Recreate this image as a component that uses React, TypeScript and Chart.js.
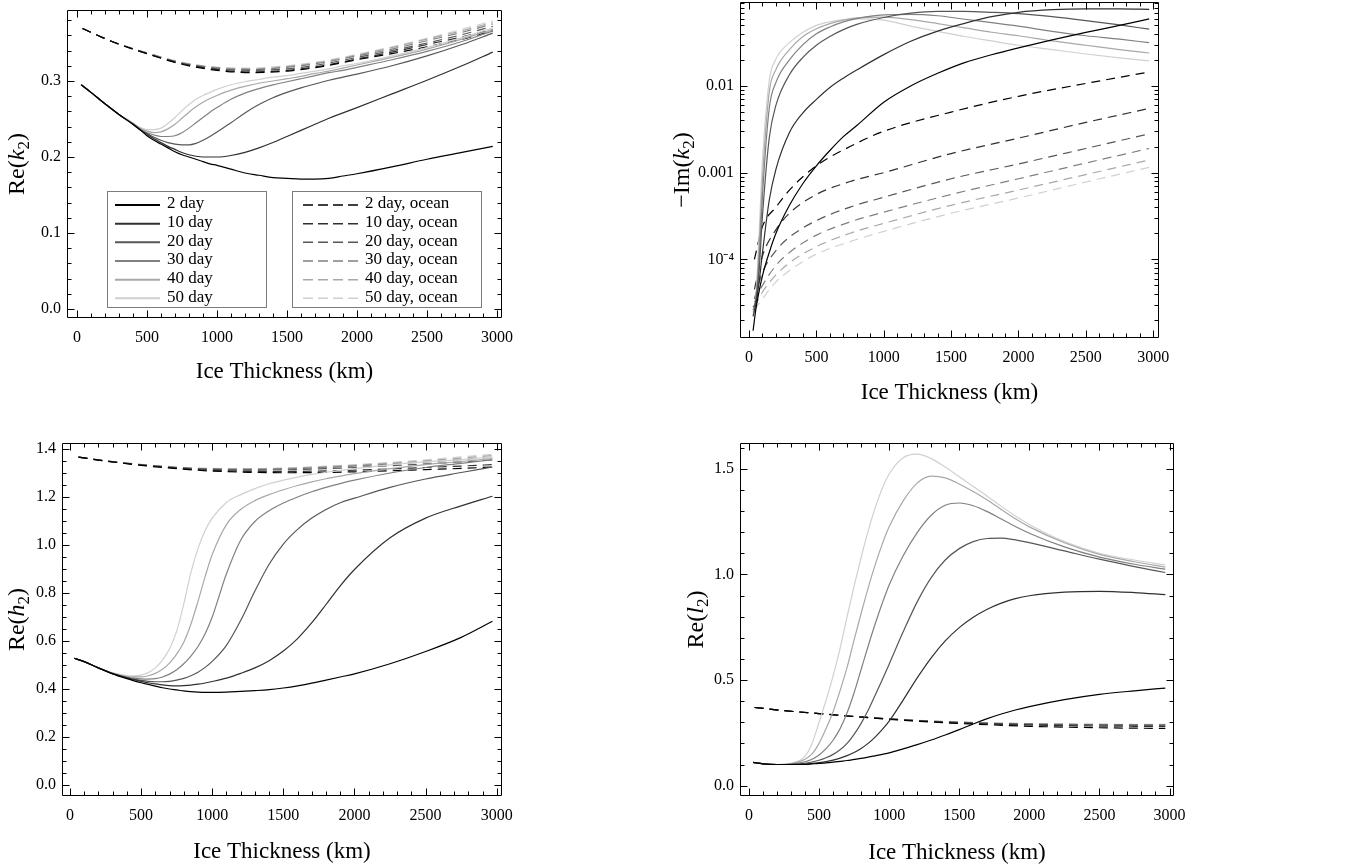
import React, { useEffect, useRef } from 'react';
import { Chart, registerables } from 'chart.js';

Chart.register(...registerables);

const SERIF = '"Liberation Serif", "Times New Roman", Times, serif';

// ---- categories / labels ----
const periodLabels = ['2 day', '10 day', '20 day', '30 day', '40 day', '50 day'];
const oceanLabels = ['2 day, ocean', '10 day, ocean', '20 day, ocean', '30 day, ocean', '40 day, ocean', '50 day, ocean'];
const grayShades = ['#000000', '#303030', '#575757', '#808080', '#a8a8a8', '#d0d0d0'];

// ---- tick labels ----
const xTickValues = [0, 500, 1000, 1500, 2000, 2500, 3000];
const reK2TickValues = [0, 0.1, 0.2, 0.3];
const imK2TickValues = [0.0001, 0.001, 0.01];
const reH2TickValues = [0, 0.2, 0.4, 0.6, 0.8, 1.0, 1.2, 1.4];
const reL2TickValues = [0, 0.5, 1.0, 1.5];

// ---- ice thickness grids (km) ----
const thickSolid = [30, 100, 200, 300, 400, 450, 500, 550, 600, 650, 700, 750, 800, 850, 900, 950, 1000, 1100, 1200, 1300, 1400, 1500, 1600, 1700, 1800, 1900, 2000, 2250, 2500, 2750, 2970];
const thickOceanK2 = [40, 250, 500, 750, 1000, 1250, 1500, 1750, 2000, 2250, 2500, 2750, 2970];
const thickSolidIm = [30, 50, 75, 100, 150, 200, 300, 400, 500, 600, 700, 800, 1000, 1200, 1400, 1600, 1800, 2000, 2250, 2500, 2750, 2970];
const thickOceanIm = [40, 100, 200, 300, 500, 750, 1000, 1500, 2000, 2500, 2970];
const thickOceanH2 = [60, 250, 500, 750, 1000, 1250, 1500, 1750, 2000, 2250, 2500, 2750, 2970];
const thickOceanL2 = [40, 250, 500, 750, 1000, 1250, 1500, 1750, 2000, 2250, 2500, 2750, 2970];

// ---- Re(k2) ----
const reK2_2d = [0.295, 0.285, 0.270, 0.256, 0.243, 0.236, 0.228, 0.222, 0.217, 0.212, 0.207, 0.203, 0.200, 0.197, 0.194, 0.191, 0.189, 0.184, 0.179, 0.176, 0.173, 0.172, 0.171, 0.171, 0.172, 0.175, 0.178, 0.187, 0.197, 0.206, 0.214];
const reK2_10d = [0.295, 0.285, 0.270, 0.256, 0.243, 0.236, 0.230, 0.224, 0.219, 0.214, 0.210, 0.206, 0.203, 0.201, 0.200, 0.200, 0.200, 0.202, 0.206, 0.212, 0.219, 0.227, 0.235, 0.243, 0.251, 0.258, 0.265, 0.283, 0.301, 0.320, 0.338];
const reK2_20d = [0.295, 0.285, 0.270, 0.256, 0.243, 0.236, 0.231, 0.226, 0.222, 0.219, 0.217, 0.216, 0.216, 0.218, 0.222, 0.227, 0.233, 0.245, 0.258, 0.269, 0.278, 0.285, 0.291, 0.296, 0.301, 0.305, 0.309, 0.320, 0.333, 0.348, 0.363];
const reK2_30d = [0.295, 0.285, 0.270, 0.256, 0.244, 0.237, 0.232, 0.229, 0.227, 0.227, 0.228, 0.232, 0.238, 0.245, 0.252, 0.259, 0.265, 0.276, 0.284, 0.290, 0.295, 0.299, 0.303, 0.307, 0.311, 0.314, 0.318, 0.328, 0.339, 0.352, 0.366];
const reK2_40d = [0.295, 0.285, 0.270, 0.256, 0.244, 0.238, 0.234, 0.232, 0.233, 0.237, 0.243, 0.251, 0.259, 0.266, 0.272, 0.277, 0.281, 0.288, 0.293, 0.297, 0.300, 0.303, 0.306, 0.310, 0.313, 0.317, 0.321, 0.331, 0.342, 0.355, 0.368];
const reK2_50d = [0.295, 0.285, 0.270, 0.256, 0.245, 0.239, 0.236, 0.236, 0.238, 0.244, 0.252, 0.261, 0.269, 0.276, 0.281, 0.285, 0.289, 0.295, 0.299, 0.302, 0.305, 0.307, 0.310, 0.313, 0.316, 0.320, 0.323, 0.333, 0.344, 0.357, 0.370];
const reK2Ocean_2d = [0.369, 0.352, 0.336, 0.322, 0.314, 0.311, 0.313, 0.319, 0.328, 0.336, 0.345, 0.355, 0.366];
const reK2Ocean_10d = [0.369, 0.352, 0.336, 0.323, 0.315, 0.312, 0.314, 0.320, 0.329, 0.338, 0.348, 0.358, 0.368];
const reK2Ocean_20d = [0.369, 0.352, 0.336, 0.323, 0.316, 0.314, 0.316, 0.322, 0.331, 0.340, 0.350, 0.361, 0.372];
const reK2Ocean_30d = [0.369, 0.352, 0.337, 0.324, 0.317, 0.315, 0.318, 0.324, 0.333, 0.342, 0.353, 0.364, 0.375];
const reK2Ocean_40d = [0.369, 0.352, 0.337, 0.324, 0.318, 0.316, 0.319, 0.325, 0.334, 0.344, 0.355, 0.366, 0.377];
const reK2Ocean_50d = [0.369, 0.352, 0.337, 0.325, 0.318, 0.317, 0.320, 0.326, 0.335, 0.345, 0.356, 0.368, 0.379];

// ---- -Im(k2) ----
const imK2_2d = [1.5e-5, 2.6e-5, 4.3e-5, 6.5e-5, 1.2e-4, 2.0e-4, 4.2e-4, 7.5e-4, 1.2e-3, 1.8e-3, 2.6e-3, 3.5e-3, 6.5e-3, 0.0100, 0.0140, 0.0186, 0.0229, 0.0275, 0.0340, 0.0415, 0.0500, 0.0595];
const imK2_10d = [2.2e-5, 3.0e-5, 5.5e-5, 1.2e-4, 4.8e-4, 1.1e-3, 2.9e-3, 4.9e-3, 7.0e-3, 9.6e-3, 0.0123, 0.0153, 0.0230, 0.0328, 0.0430, 0.0528, 0.0630, 0.0708, 0.0759, 0.0776, 0.0776, 0.0767];
const imK2_20d = [2.8e-5, 3.3e-5, 7.5e-5, 3.2e-4, 2.5e-3, 6.0e-3, 0.0135, 0.0214, 0.0295, 0.0372, 0.0447, 0.0513, 0.0617, 0.0692, 0.0724, 0.0724, 0.0708, 0.0684, 0.0631, 0.0569, 0.0507, 0.0452];
const imK2_30d = [2.6e-5, 3.3e-5, 1.0e-4, 5.5e-4, 5.5e-3, 0.0110, 0.0200, 0.0300, 0.0400, 0.0480, 0.0550, 0.0600, 0.0660, 0.0670, 0.0646, 0.0589, 0.0537, 0.0490, 0.0427, 0.0380, 0.0347, 0.0316];
const imK2_40d = [2.5e-5, 3.4e-5, 1.4e-4, 8.5e-4, 8.5e-3, 0.0155, 0.0263, 0.0372, 0.0457, 0.0525, 0.0575, 0.0610, 0.0624, 0.0582, 0.0525, 0.0468, 0.0417, 0.0380, 0.0331, 0.0295, 0.0263, 0.0240];
const imK2_50d = [2.4e-5, 3.5e-5, 2.0e-4, 1.4e-3, 0.0115, 0.0205, 0.0316, 0.0417, 0.0501, 0.0550, 0.0582, 0.0596, 0.0575, 0.0490, 0.0427, 0.0372, 0.0331, 0.0295, 0.0263, 0.0234, 0.0211, 0.0195];
const imK2Ocean_2d = [1.0e-4, 2.4e-4, 4.0e-4, 6.3e-4, 1.2e-3, 2.0e-3, 3.0e-3, 5.0e-3, 7.6e-3, 0.0107, 0.0145];
const imK2Ocean_10d = [4.5e-5, 1.1e-4, 2.2e-4, 3.4e-4, 5.6e-4, 7.9e-4, 1.0e-3, 1.66e-3, 2.5e-3, 3.8e-3, 5.5e-3];
const imK2Ocean_20d = [3.5e-5, 7.1e-5, 1.26e-4, 1.8e-4, 2.8e-4, 4.0e-4, 5.2e-4, 8.5e-4, 1.26e-3, 1.9e-3, 2.8e-3];
const imK2Ocean_30d = [3.2e-5, 5.0e-5, 8.5e-5, 1.2e-4, 1.9e-4, 2.7e-4, 3.5e-4, 5.6e-4, 8.5e-4, 1.29e-3, 1.9e-3];
const imK2Ocean_40d = [2.8e-5, 4.2e-5, 6.6e-5, 9.1e-5, 1.4e-4, 2.0e-4, 2.6e-4, 4.2e-4, 6.3e-4, 9.5e-4, 1.4e-3];
const imK2Ocean_50d = [2.6e-5, 3.5e-5, 5.5e-5, 7.4e-5, 1.15e-4, 1.6e-4, 2.1e-4, 3.4e-4, 5.1e-4, 7.8e-4, 1.15e-3];

// ---- Re(h2) ----
const reH2_2d = [0.528, 0.514, 0.488, 0.463, 0.443, 0.434, 0.426, 0.419, 0.412, 0.405, 0.400, 0.396, 0.392, 0.389, 0.387, 0.386, 0.386, 0.387, 0.390, 0.393, 0.397, 0.404, 0.413, 0.424, 0.437, 0.450, 0.463, 0.505, 0.556, 0.615, 0.682];
const reH2_10d = [0.528, 0.514, 0.488, 0.464, 0.446, 0.439, 0.432, 0.426, 0.421, 0.417, 0.414, 0.413, 0.414, 0.416, 0.420, 0.425, 0.431, 0.445, 0.465, 0.488, 0.518, 0.558, 0.610, 0.676, 0.752, 0.830, 0.898, 1.030, 1.112, 1.163, 1.203];
const reH2_20d = [0.528, 0.514, 0.488, 0.464, 0.447, 0.441, 0.436, 0.432, 0.430, 0.430, 0.432, 0.437, 0.444, 0.455, 0.470, 0.490, 0.515, 0.582, 0.685, 0.808, 0.920, 1.004, 1.065, 1.112, 1.148, 1.176, 1.195, 1.240, 1.275, 1.302, 1.325];
const reH2_30d = [0.528, 0.514, 0.488, 0.465, 0.449, 0.445, 0.442, 0.441, 0.443, 0.450, 0.462, 0.480, 0.505, 0.537, 0.577, 0.630, 0.700, 0.880, 1.020, 1.098, 1.143, 1.175, 1.200, 1.222, 1.240, 1.256, 1.270, 1.300, 1.323, 1.340, 1.355];
const reH2_40d = [0.528, 0.514, 0.488, 0.466, 0.452, 0.450, 0.450, 0.455, 0.465, 0.482, 0.508, 0.545, 0.595, 0.670, 0.765, 0.868, 0.960, 1.085, 1.148, 1.185, 1.210, 1.230, 1.248, 1.263, 1.276, 1.287, 1.297, 1.318, 1.335, 1.348, 1.360];
const reH2_50d = [0.528, 0.514, 0.488, 0.467, 0.456, 0.455, 0.458, 0.468, 0.488, 0.520, 0.568, 0.640, 0.755, 0.885, 0.985, 1.060, 1.112, 1.177, 1.210, 1.235, 1.255, 1.270, 1.283, 1.294, 1.303, 1.311, 1.318, 1.334, 1.346, 1.356, 1.366];
const reH2Ocean_2d = [1.366, 1.350, 1.332, 1.318, 1.308, 1.303, 1.301, 1.302, 1.305, 1.309, 1.314, 1.319, 1.325];
const reH2Ocean_10d = [1.366, 1.350, 1.333, 1.320, 1.311, 1.307, 1.306, 1.308, 1.312, 1.317, 1.323, 1.329, 1.335];
const reH2Ocean_20d = [1.366, 1.350, 1.334, 1.322, 1.315, 1.312, 1.313, 1.317, 1.323, 1.330, 1.338, 1.346, 1.355];
const reH2Ocean_30d = [1.366, 1.351, 1.335, 1.323, 1.317, 1.315, 1.317, 1.322, 1.329, 1.337, 1.346, 1.356, 1.366];
const reH2Ocean_40d = [1.366, 1.351, 1.335, 1.324, 1.318, 1.317, 1.319, 1.325, 1.332, 1.341, 1.351, 1.362, 1.373];
const reH2Ocean_50d = [1.366, 1.351, 1.336, 1.325, 1.319, 1.318, 1.321, 1.327, 1.335, 1.344, 1.355, 1.367, 1.378];

// ---- Re(l2) ----
const reL2_2d = [0.110, 0.103, 0.100, 0.100, 0.101, 0.103, 0.105, 0.108, 0.111, 0.115, 0.119, 0.124, 0.129, 0.135, 0.141, 0.148, 0.155, 0.174, 0.194, 0.216, 0.240, 0.265, 0.292, 0.317, 0.339, 0.358, 0.374, 0.407, 0.432, 0.449, 0.462];
const reL2_10d = [0.110, 0.103, 0.100, 0.100, 0.102, 0.105, 0.109, 0.114, 0.121, 0.130, 0.142, 0.157, 0.176, 0.200, 0.230, 0.265, 0.305, 0.405, 0.510, 0.605, 0.685, 0.748, 0.797, 0.835, 0.864, 0.885, 0.899, 0.916, 0.920, 0.914, 0.904];
const reL2_20d = [0.110, 0.103, 0.100, 0.101, 0.106, 0.112, 0.120, 0.132, 0.148, 0.170, 0.200, 0.243, 0.295, 0.357, 0.428, 0.500, 0.575, 0.728, 0.870, 0.985, 1.068, 1.122, 1.155, 1.170, 1.172, 1.163, 1.150, 1.111, 1.072, 1.037, 1.009];
const reL2_30d = [0.110, 0.103, 0.100, 0.102, 0.113, 0.125, 0.145, 0.175, 0.215, 0.270, 0.345, 0.440, 0.550, 0.660, 0.765, 0.862, 0.950, 1.088, 1.198, 1.280, 1.327, 1.338, 1.325, 1.297, 1.262, 1.227, 1.195, 1.130, 1.082, 1.048, 1.025];
const reL2_40d = [0.110, 0.103, 0.100, 0.104, 0.125, 0.150, 0.200, 0.270, 0.350, 0.450, 0.560, 0.690, 0.815, 0.935, 1.045, 1.142, 1.225, 1.348, 1.432, 1.465, 1.457, 1.428, 1.392, 1.352, 1.307, 1.263, 1.225, 1.150, 1.095, 1.060, 1.034];
const reL2_50d = [0.110, 0.103, 0.100, 0.106, 0.140, 0.200, 0.300, 0.405, 0.520, 0.650, 0.800, 0.945, 1.080, 1.205, 1.315, 1.405, 1.475, 1.552, 1.569, 1.548, 1.508, 1.462, 1.416, 1.370, 1.322, 1.277, 1.236, 1.155, 1.100, 1.068, 1.045];
const reL2Ocean_2d = [0.370, 0.355, 0.341, 0.327, 0.314, 0.303, 0.294, 0.287, 0.281, 0.277, 0.274, 0.272, 0.271];
const reL2Ocean_10d = [0.370, 0.355, 0.341, 0.327, 0.315, 0.305, 0.297, 0.291, 0.287, 0.284, 0.282, 0.281, 0.280];
const reL2Ocean_20d = [0.370, 0.355, 0.341, 0.328, 0.316, 0.306, 0.299, 0.294, 0.290, 0.288, 0.287, 0.286, 0.286];
const reL2Ocean_30d = [0.370, 0.355, 0.341, 0.328, 0.316, 0.307, 0.300, 0.295, 0.292, 0.290, 0.289, 0.288, 0.288];
const reL2Ocean_40d = [0.370, 0.355, 0.341, 0.328, 0.317, 0.307, 0.301, 0.296, 0.293, 0.291, 0.290, 0.289, 0.289];
const reL2Ocean_50d = [0.370, 0.355, 0.341, 0.328, 0.317, 0.308, 0.301, 0.297, 0.294, 0.292, 0.291, 0.290, 0.290];

type Seg = { text: string; italic?: boolean; sub?: boolean };
type Spec = {
  key: string;
  left: number; top: number; width: number; height: number;
  frame: { l: number; t: number; r: number; b: number };
  xMin: number; xMax: number; yMin: number; yMax: number;
  logY: boolean;
  yTicks: number[]; yMinor: number;
  solidX: number[]; solids: number[][];
  oceanX: number[]; oceans: number[][];
  yTitle: Seg[]; yTitleX: number; xTitleY: number;
  legend: boolean;
};

const xTitleText = 'Ice Thickness (km)';

const panels: Spec[] = [
  {
    key: 'rek2', left: 0, top: 0, width: 660, height: 430,
    frame: { l: 67, t: 10, r: 502, b: 318 },
    xMin: -71, xMax: 3036, yMin: -0.0118, yMax: 0.3934, logY: false,
    yTicks: reK2TickValues, yMinor: 0.02,
    solidX: thickSolid, solids: [reK2_2d, reK2_10d, reK2_20d, reK2_30d, reK2_40d, reK2_50d],
    oceanX: thickOceanK2, oceans: [reK2Ocean_2d, reK2Ocean_10d, reK2Ocean_20d, reK2Ocean_30d, reK2Ocean_40d, reK2Ocean_50d],
    yTitle: [{ text: 'Re(' }, { text: 'k', italic: true }, { text: '2', sub: true }, { text: ')' }],
    yTitleX: 24, xTitleY: 372, legend: true,
  },
  {
    key: 'imk2', left: 660, top: 0, width: 709, height: 430,
    frame: { l: 80, t: 2, r: 499, b: 338 },
    xMin: -67, xMax: 3043, yMin: 1.236e-5, yMax: 0.0931, logY: true,
    yTicks: imK2TickValues, yMinor: 0,
    solidX: thickSolidIm, solids: [imK2_2d, imK2_10d, imK2_20d, imK2_30d, imK2_40d, imK2_50d],
    oceanX: thickOceanIm, oceans: [imK2Ocean_2d, imK2Ocean_10d, imK2Ocean_20d, imK2Ocean_30d, imK2Ocean_40d, imK2Ocean_50d],
    yTitle: [{ text: '\u2212Im(' }, { text: 'k', italic: true }, { text: '2', sub: true }, { text: ')' }],
    yTitleX: 29, xTitleY: 393, legend: false,
  },
  {
    key: 'reh2', left: 0, top: 430, width: 660, height: 437,
    frame: { l: 62, t: 13, r: 502, b: 366 },
    xMin: -56, xMax: 3037, yMin: -0.046, yMax: 1.425, logY: false,
    yTicks: reH2TickValues, yMinor: 0.05,
    solidX: thickSolid, solids: [reH2_2d, reH2_10d, reH2_20d, reH2_30d, reH2_40d, reH2_50d],
    oceanX: thickOceanH2, oceans: [reH2Ocean_2d, reH2Ocean_10d, reH2Ocean_20d, reH2Ocean_30d, reH2Ocean_40d, reH2Ocean_50d],
    yTitle: [{ text: 'Re(' }, { text: 'h', italic: true }, { text: '2', sub: true }, { text: ')' }],
    yTitleX: 24, xTitleY: 422, legend: false,
  },
  {
    key: 'rel2', left: 660, top: 430, width: 709, height: 437,
    frame: { l: 80, t: 13, r: 514, b: 366 },
    xMin: -64, xMax: 3032, yMin: -0.049, yMax: 1.622, logY: false,
    yTicks: reL2TickValues, yMinor: 0.1,
    solidX: thickSolid, solids: [reL2_2d, reL2_10d, reL2_20d, reL2_30d, reL2_40d, reL2_50d],
    oceanX: thickOceanL2, oceans: [reL2Ocean_2d, reL2Ocean_10d, reL2Ocean_20d, reL2Ocean_30d, reL2Ocean_40d, reL2Ocean_50d],
    yTitle: [{ text: 'Re(' }, { text: 'l', italic: true }, { text: '2', sub: true }, { text: ')' }],
    yTitleX: 43, xTitleY: 423, legend: false,
  },
];

function formatY(v: number, log: boolean): string {
  if (log) {
    const e = Math.round(Math.log10(v));
    if (e === -2) return '0.01';
    if (e === -3) return '0.001';
    return '10\u207B' + (e === -4 ? '\u2074' : String(-e));
  }
  return v.toFixed(1);
}

function makeOverlay(s: Spec) {
  return {
    id: 'overlay-' + s.key,
    afterDatasetsDraw(chart: any) {
      const ctx: CanvasRenderingContext2D = chart.ctx;
      const a = chart.chartArea;
      const xs = chart.scales.x;
      const ys = chart.scales.y;
      const L = Math.round(a.left) + 0.5;
      const R = Math.round(a.right) - 0.5;
      const T = Math.round(a.top) + 0.5;
      const B = Math.round(a.bottom) - 0.5;
      ctx.save();
      ctx.strokeStyle = '#000';
      ctx.lineWidth = 1;
      ctx.setLineDash([]);
      ctx.beginPath();
      ctx.rect(L, T, R - L, B - T);
      for (let k = Math.ceil(s.xMin / 100); k * 100 <= s.xMax; k++) {
        const v = k * 100;
        const px = Math.round(xs.getPixelForValue(v)) + 0.5;
        const len = v % 500 === 0 ? 7 : 4;
        ctx.moveTo(px, B); ctx.lineTo(px, B - len);
        ctx.moveTo(px, T); ctx.lineTo(px, T + len);
      }
      const yTick = (v: number, major: boolean) => {
        const py = Math.round(ys.getPixelForValue(v)) + 0.5;
        const len = major ? 7 : 4;
        ctx.moveTo(L, py); ctx.lineTo(L + len, py);
        ctx.moveTo(R, py); ctx.lineTo(R - len, py);
      };
      if (s.logY) {
        const d0 = Math.floor(Math.log10(s.yMin));
        const d1 = Math.ceil(Math.log10(s.yMax));
        for (let d = d0; d <= d1; d++) {
          for (let m = 1; m <= 9; m++) {
            const v = m * Math.pow(10, d);
            if (v >= s.yMin && v <= s.yMax) yTick(v, m === 1);
          }
        }
      } else {
        const st = s.yMinor;
        for (let k = Math.ceil(s.yMin / st - 1e-9); k * st <= s.yMax + 1e-9; k++) {
          const v = k * st;
          const major = s.yTicks.some((t) => Math.abs(t - v) < st / 10);
          yTick(v, major);
        }
      }
      ctx.stroke();
      ctx.restore();

      if (s.legend) drawLegend(ctx);
    },
    afterDraw(chart: any) {
      const ctx: CanvasRenderingContext2D = chart.ctx;
      ctx.save();
      ctx.fillStyle = '#000';
      ctx.font = '23px ' + SERIF;
      ctx.textAlign = 'center';
      ctx.textBaseline = 'middle';
      ctx.fillText(xTitleText, (s.frame.l + s.frame.r) / 2, s.xTitleY);
      ctx.translate(s.yTitleX, (s.frame.t + s.frame.b) / 2);
      ctx.rotate(-Math.PI / 2);
      ctx.textAlign = 'left';
      ctx.textBaseline = 'alphabetic';
      const parts = s.yTitle.map((seg) => ({
        seg,
        font: (seg.italic ? 'italic ' : '') + (seg.sub ? '17px ' : '24px ') + SERIF,
        w: 0,
      }));
      let total = 0;
      parts.forEach((p) => { ctx.font = p.font; p.w = ctx.measureText(p.seg.text).width; total += p.w; });
      let x = -total / 2;
      parts.forEach((p) => {
        ctx.font = p.font;
        ctx.fillText(p.seg.text, x, p.seg.sub ? 5 : 0);
        x += p.w;
      });
      ctx.restore();
    },
  };
}

function drawLegend(ctx: CanvasRenderingContext2D) {
  ctx.save();
  const boxes = [
    { x: 107.5, y: 191.5, w: 159, h: 116, lx0: 115, lx1: 160, tx: 167, labels: periodLabels, dashed: false },
    { x: 292.5, y: 191.5, w: 189, h: 116, lx0: 303, lx1: 358, tx: 365, labels: oceanLabels, dashed: true },
  ];
  boxes.forEach((b) => {
    ctx.setLineDash([]);
    ctx.fillStyle = '#ffffff';
    ctx.fillRect(b.x, b.y, b.w, b.h);
    ctx.strokeStyle = '#7c7c7c';
    ctx.lineWidth = 1;
    ctx.strokeRect(b.x, b.y, b.w, b.h);
    b.labels.forEach((lab, i) => {
      const y = 205 + i * 18.67;
      ctx.strokeStyle = grayShades[i];
      ctx.lineWidth = b.dashed ? 1.5 : 2;
      ctx.setLineDash(b.dashed ? [10, 5] : []);
      ctx.beginPath();
      ctx.moveTo(b.lx0, y);
      ctx.lineTo(b.lx1, y);
      ctx.stroke();
      ctx.setLineDash([]);
      ctx.fillStyle = '#000';
      ctx.font = '17px ' + SERIF;
      ctx.textAlign = 'left';
      ctx.textBaseline = 'middle';
      ctx.fillText(lab, b.tx, y - 1);
    });
  });
  ctx.restore();
}

function zeroPadding(sc: any) {
  sc.paddingTop = 0;
  sc.paddingBottom = 0;
  sc.paddingLeft = 0;
  sc.paddingRight = 0;
}

function buildConfig(s: Spec): any {
  const datasets: any[] = [];
  s.solids.forEach((ys, i) => {
    datasets.push({
      label: periodLabels[i],
      data: ys.map((y, j) => ({ x: s.solidX[j], y })),
      borderColor: grayShades[i],
      borderWidth: 1.2,
      pointRadius: 0,
      fill: false,
      cubicInterpolationMode: 'monotone',
    });
  });
  s.oceans.forEach((ys, i) => {
    datasets.push({
      label: oceanLabels[i],
      data: ys.map((y, j) => ({ x: s.oceanX[j], y })),
      borderColor: grayShades[i],
      borderWidth: 1.2,
      borderDash: [9, 6],
      pointRadius: 0,
      fill: false,
      cubicInterpolationMode: 'monotone',
    });
  });
  const tickFont = { family: SERIF, size: 16 };
  return {
    type: 'line',
    data: { datasets },
    options: {
      animation: false,
      responsive: false,
      maintainAspectRatio: false,
      events: [],
      layout: { padding: { left: 0, top: s.frame.t, right: s.width - s.frame.r, bottom: 0 } },
      plugins: { legend: { display: false }, tooltip: { enabled: false }, title: { display: false } },
      scales: {
        x: {
          type: 'linear',
          position: 'bottom',
          min: s.xMin,
          max: s.xMax,
          grid: { display: false, drawTicks: false, tickLength: 0 },
          border: { display: false },
          afterBuildTicks: (sc: any) => { sc.ticks = xTickValues.map((v) => ({ value: v })); },
          afterFit: (sc: any) => { sc.height = s.height - s.frame.b; zeroPadding(sc); },
          ticks: {
            autoSkip: false, maxRotation: 0, minRotation: 0, padding: 10, color: '#000', font: tickFont,
            callback: (v: any) => String(v),
          },
        },
        y: {
          type: s.logY ? 'logarithmic' : 'linear',
          position: 'left',
          min: s.yMin,
          max: s.yMax,
          grid: { display: false, drawTicks: false, tickLength: 0 },
          border: { display: false },
          afterBuildTicks: (sc: any) => { sc.ticks = s.yTicks.map((v) => ({ value: v })); },
          afterFit: (sc: any) => { sc.width = s.frame.l; zeroPadding(sc); },
          ticks: {
            autoSkip: false, padding: 6, color: '#000', font: tickFont,
            callback: (v: any) => formatY(Number(v), s.logY),
          },
        },
      },
    },
    plugins: [makeOverlay(s)],
  };
}

function Panel({ spec }: { spec: Spec }) {
  const ref = useRef<HTMLCanvasElement>(null);
  useEffect(() => {
    if (!ref.current) return;
    const chart = new Chart(ref.current, buildConfig(spec));
    return () => chart.destroy();
  }, [spec]);
  return (
    <canvas
      ref={ref}
      width={spec.width}
      height={spec.height}
      style={{ position: 'absolute', left: spec.left, top: spec.top, width: spec.width, height: spec.height }}
    />
  );
}

export default function App() {
  return (
    <div style={{ position: 'fixed', left: 0, top: 0, width: 1369, height: 867, background: '#ffffff', overflow: 'hidden' }}>
      {panels.map((p) => (
        <Panel key={p.key} spec={p} />
      ))}
    </div>
  );
}
